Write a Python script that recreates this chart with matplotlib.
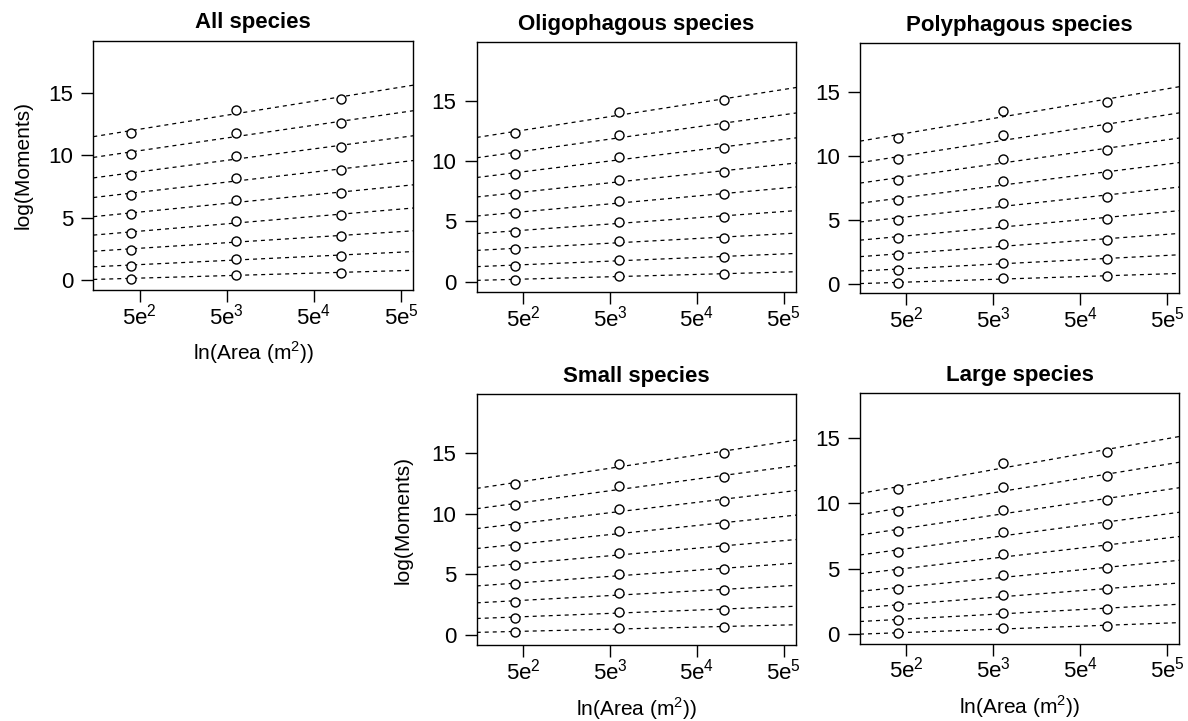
import numpy as np
import matplotlib.pyplot as plt

plt.rcParams['font.family'] = ['Liberation Sans', 'DejaVu Sans']
plt.rcParams['mathtext.fontset'] = 'custom'
plt.rcParams['mathtext.rm'] = 'Liberation Sans'

# sampling areas (m^2)
area = [400, 6400, 102400]
xticks = [5e2, 5e3, 5e4, 5e5]
xtick_labels = ['5e$^2$', '5e$^3$', '5e$^4$', '5e$^5$']
yticks = [0, 5, 10, 15]

titles = ['All species', 'Oligophagous species', 'Polyphagous species',
          'Small species', 'Large species']

# log(moments), one row per moment order (low -> high), columns = areas
all_sp = [[0.13, 0.43, 0.61], [1.17, 1.71, 1.97], [2.45, 3.17, 3.52],
          [3.78, 4.74, 5.20], [5.28, 6.42, 6.95], [6.85, 8.15, 8.79],
          [8.45, 9.94, 10.66], [10.10, 11.80, 12.55], [11.80, 13.64, 14.50]]
oligo = [[0.17, 0.47, 0.64], [1.33, 1.83, 2.05], [2.71, 3.35, 3.65],
         [4.15, 4.98, 5.40], [5.67, 6.67, 7.25], [7.28, 8.47, 9.13],
         [8.94, 10.32, 11.10], [10.60, 12.21, 13.04], [12.34, 14.09, 15.06]]
poly = [[0.08, 0.47, 0.60], [1.12, 1.67, 1.95], [2.27, 3.10, 3.46],
        [3.59, 4.66, 5.10], [5.03, 6.33, 6.82], [6.54, 8.02, 8.62],
        [8.13, 9.79, 10.44], [9.74, 11.61, 12.29], [11.43, 13.52, 14.22]]
small = [[0.27, 0.60, 0.68], [1.45, 1.92, 2.11], [2.76, 3.45, 3.70],
         [4.19, 5.06, 5.42], [5.75, 6.79, 7.25], [7.34, 8.57, 9.14],
         [9.01, 10.40, 11.06], [10.68, 12.24, 13.00], [12.40, 14.10, 15.00]]
large = [[0.03, 0.44, 0.61], [1.05, 1.61, 1.92], [2.15, 2.97, 3.40],
         [3.46, 4.48, 5.02], [4.84, 6.09, 6.71], [6.30, 7.78, 8.45],
         [7.86, 9.50, 10.24], [9.44, 11.29, 12.08], [11.08, 13.13, 13.95]]

panels = [all_sp, oligo, poly, small, large]
ylims = [(-0.78, 19.15), (-0.86, 19.88), (-0.73, 18.8), (-0.8, 19.79), (-0.77, 18.46)]
xlim = (147, 690000)

# axes boxes in figure fraction
boxes = [[0.0785, 0.5978, 0.2694, 0.3458],
         [0.4013, 0.5950, 0.2688, 0.3463],
         [0.7239, 0.5932, 0.2688, 0.3467],
         [0.4013, 0.1054, 0.2688, 0.3477],
         [0.7239, 0.1072, 0.2688, 0.3473]]

fig = plt.figure(figsize=(11.88, 7.21), dpi=100)

lx = np.log10(area)
for i, data in enumerate(panels):
    ax = fig.add_axes(boxes[i])
    ax.set_xscale('log')
    ax.set_xlim(xlim)
    ax.set_ylim(ylims[i])
    for row in data:
        # least-squares line of log(moment) on log(area)
        b, a = np.polyfit(lx, row, 1)
        fit = a + b * lx
        ax.axline((area[0], fit[0]), (area[-1], fit[-1]), color='black',
                  lw=0.9, dashes=(3.2, 3.2))
        ax.plot(area, row, 'o', mfc='white', mec='black', ms=6.5, mew=1.0, zorder=3)

    ax.set_xticks(xticks)
    ax.set_xticklabels(xtick_labels)
    ax.minorticks_off()
    ax.set_yticks(yticks)
    ax.tick_params(axis='both', direction='out', length=8.5, width=1.0,
                   labelsize=16, colors='black')
    ax.tick_params(axis='x', pad=1)
    ax.tick_params(axis='y', pad=6)
    for s in ax.spines.values():
        s.set_linewidth(1.0)
    ax.set_title(titles[i], fontsize=16, fontweight='bold', pad=9)

    if i in (0, 3):
        ax.set_ylabel('log(Moments)', fontsize=15)
        ax.yaxis.set_label_coords(-0.19 if i == 0 else -0.2, 0.5)
    if i in (0, 3, 4):
        ax.set_xlabel('ln(Area (m$^2$))', fontsize=15)
        ax.xaxis.set_label_coords(0.5, -0.2)

fig.savefig('out.png', dpi=100)
